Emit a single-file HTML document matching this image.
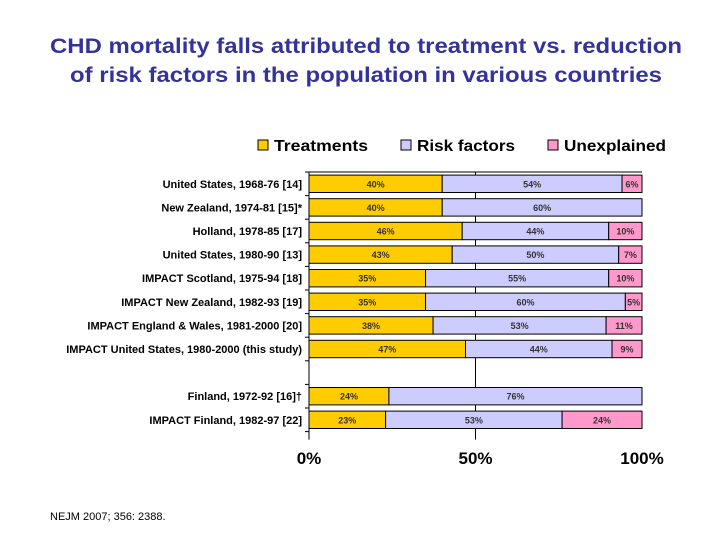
<!DOCTYPE html>
<html><head><meta charset="utf-8"><style>
html,body{margin:0;padding:0;background:#fff;}
svg{display:block;font-family:"Liberation Sans",Arial,sans-serif;}
</style></head><body>
<svg id="chart" width="720" height="540" viewBox="0 0 720 540">
<text x="366" y="53" text-anchor="middle" font-size="21" font-weight="bold" fill="#333399" textLength="632" lengthAdjust="spacingAndGlyphs">CHD mortality falls attributed to treatment vs. reduction</text>
<text x="366" y="82" text-anchor="middle" font-size="21" font-weight="bold" fill="#333399" textLength="592" lengthAdjust="spacingAndGlyphs">of risk factors in the population in various countries</text>
<g>
<rect x="258" y="140" width="10" height="10" fill="#FFCC00" stroke="#000" stroke-width="1"/>
<text x="274" y="151" font-size="16" font-weight="bold" textLength="94" lengthAdjust="spacingAndGlyphs">Treatments</text>
<rect x="401" y="140" width="10" height="10" fill="#CCCCFF" stroke="#000" stroke-width="1"/>
<text x="417" y="151" font-size="16" font-weight="bold" textLength="98" lengthAdjust="spacingAndGlyphs">Risk factors</text>
<rect x="548" y="140" width="10" height="10" fill="#FF99CC" stroke="#000" stroke-width="1"/>
<text x="564" y="151" font-size="16" font-weight="bold" textLength="102" lengthAdjust="spacingAndGlyphs">Unexplained</text>
</g>
<g id="plot"></g>
<text x="50" y="520" font-size="11" fill="#000">NEJM 2007; 356: 2388.</text>
</svg>
<script>
const categories = ["United States, 1968-76 [14]","New Zealand, 1974-81 [15]*","Holland, 1978-85 [17]","United States, 1980-90 [13]","IMPACT Scotland, 1975-94 [18]","IMPACT New Zealand, 1982-93 [19]","IMPACT England & Wales, 1981-2000 [20]","IMPACT United States, 1980-2000 (this study)","","Finland, 1972-92 [16]\u2020","IMPACT Finland, 1982-97 [22]"];
const treatments = [40,40,46,43,35,35,38,47,null,24,23];
const riskFactors = [54,60,44,50,55,60,53,44,null,76,53];
const unexplained = [6,0,10,7,10,5,11,9,null,0,24];
const xTicks = [0,50,100];

const NS="http://www.w3.org/2000/svg";
const plot=document.getElementById('plot');
const X0=309,X1=642,Y0=172,BAND=23.6;
const xs=v=>X0+(X1-X0)*v/100;
const yb=i=>Y0+i*BAND;
function mk(tag,attrs){const e=document.createElementNS(NS,tag);for(const k in attrs)e.setAttribute(k,attrs[k]);plot.appendChild(e);return e;}
const n=categories.length;
const Yend=yb(n);
let g=mk('line',{x1:xs(50),x2:xs(50),y1:Y0,y2:Yend+8,stroke:'#000','stroke-width':1});


let ax=mk('line',{x1:X0,x2:X0,y1:Y0,y2:Yend+8,stroke:'#000','stroke-width':1});


let tl=mk('line',{x1:X0,x2:X1,y1:Y0,y2:Y0,stroke:'#000','stroke-width':1});


for(let i=0;i<=n;i++){
  const t=mk('line',{x1:X0-4,x2:X0,y1:yb(i),y2:yb(i),stroke:'#000','stroke-width':1});
  
  
}
const series=[[treatments,'#FFCC00','treatments'],[riskFactors,'#CCCCFF','risk-factors'],[unexplained,'#FF99CC','unexplained']];
for(let i=0;i<n;i++){
  const cy=yb(i)+BAND/2;
  if(categories[i]){
    const lb=mk('text',{x:302,y:cy+4,'text-anchor':'end','font-size':11,'font-weight':'bold'});
    lb.textContent=categories[i];
    
    
  }
  if(treatments[i]==null)continue;
  const total=(treatments[i]||0)+(riskFactors[i]||0)+(unexplained[i]||0);
  const sc=100/total;
  let acc=0;
  for(const [arr,col,nm] of series){
    const v=arr[i];if(!v)continue;
    const a=xs(acc*sc),b=xs((acc+v)*sc);
    const r=mk('rect',{x:a,y:cy-8.7,width:b-a,height:17.4,fill:col,stroke:'#000','stroke-width':1});
    
    
    const tx=mk('text',{x:(a+b)/2,y:cy+3.5,'text-anchor':'middle','font-size':9,'font-weight':'bold',fill:'#333'});
    tx.textContent=v+'%';
    
    
    acc+=v;
  }
}
for(const t of xTicks){
  const lb=mk('text',{x:xs(t),y:464,'text-anchor':'middle','font-size':17,'font-weight':'bold'});
  lb.textContent=t+'%';
  
  
}
</script>
</body></html>
